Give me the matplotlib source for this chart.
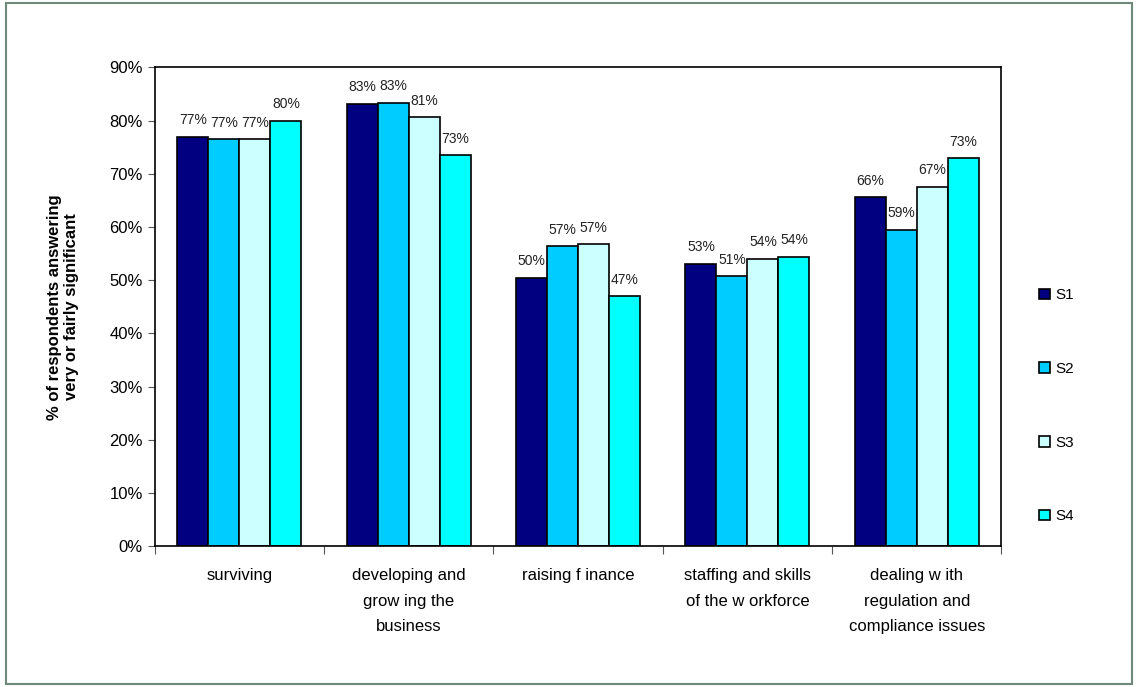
import numpy as np
import matplotlib.pyplot as plt
from matplotlib.patches import Rectangle

plt.rcParams['font.family'] = ['Liberation Sans', 'DejaVu Sans']

categories = ["surviving", "developing and\ngrow ing the\nbusiness", "raising f inance",
              "staffing and skills\nof the w orkforce",
              "dealing w ith\nregulation and\ncompliance issues"]
series = ["S1", "S2", "S3", "S4"]
s1 = [76.9, 83.1, 50.4, 53.1, 65.6]
s2 = [76.5, 83.3, 56.4, 50.7, 59.5]
s3 = [76.5, 80.6, 56.7, 54.0, 67.5]
s4 = [79.9, 73.5, 47.0, 54.4, 72.9]
labels = [["77%", "83%", "50%", "53%", "66%"],
          ["77%", "83%", "57%", "51%", "59%"],
          ["77%", "81%", "57%", "54%", "67%"],
          ["80%", "73%", "47%", "54%", "73%"]]
colors = ["#000080", "#00CCFF", "#CCFFFF", "#00FFFF"]

fig = plt.figure(figsize=(11.38, 6.87), dpi=100)
fig.patches.append(Rectangle((0.005, 0.005), 0.99, 0.99, transform=fig.transFigure,
                             fill=False, edgecolor="#6F8A7A", linewidth=1.5))
ax = fig.add_axes([0.136, 0.205, 0.744, 0.697])

x = np.arange(len(categories))
w = 0.183
for i, vals in enumerate([s1, s2, s3, s4]):
    pos = x + (i - 1.5) * w
    ax.bar(pos, vals, width=w, color=colors[i], edgecolor="black", linewidth=1.2,
           label=series[i])
    for p, v, t in zip(pos, vals, labels[i]):
        ax.text(p, v + 1.8, t, ha="center", va="bottom", fontsize=10, color="#222222")

ax.set_xlim(-0.5, len(categories) - 0.5)
ax.set_ylim(0, 90)
ax.set_yticks(np.arange(0, 91, 10))
ax.set_yticklabels([f"{v}%" for v in range(0, 91, 10)], fontsize=12)
ax.set_xticks(np.arange(-0.5, len(categories), 1.0))
ax.set_xticklabels([])
ax.set_xticks(x, minor=True)
ax.set_xticklabels(categories, minor=True, fontsize=12, va="top", linespacing=1.85)
ax.tick_params(axis="x", which="minor", length=0, pad=16)
ax.tick_params(axis="x", which="major", length=6, direction="out", color="#555555")
ax.tick_params(axis="y", length=5, direction="out", color="#555555")
for s in ax.spines.values():
    s.set_linewidth(1.2)

ax.set_ylabel("% of respondents answering\nvery or fairly significant", fontsize=12,
              fontweight="bold", labelpad=22)

ax.legend(loc="center left", bbox_to_anchor=(1.028, 0.293), frameon=False, fontsize=11,
          handlelength=0.7, handleheight=0.7, labelspacing=3.9, handletextpad=0.4)

fig.savefig("out.png", dpi=100)
